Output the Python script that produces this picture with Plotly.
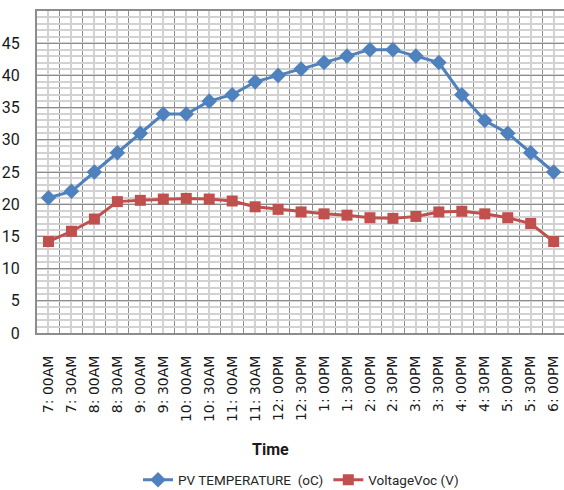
import plotly.graph_objects as go

times = ["7: 00AM", "7: 30AM", "8: 00AM", "8: 30AM", "9: 00AM", "9: 30AM",
         "10: 00AM", "10: 30AM", "11: 00AM", "11: 30AM", "12: 00PM", "12: 30PM",
         "1: 00PM", "1: 30PM", "2: 00PM", "2: 30PM", "3: 00PM", "3: 30PM",
         "4: 00PM", "4: 30PM", "5: 00PM", "5: 30PM", "6: 00PM"]
pv_temperature = [21, 22, 25, 28, 31, 34, 34, 36, 37, 39, 40, 41,
                  42, 43, 44, 44, 43, 42, 37, 33, 31, 28, 25]
voltage_voc = [14.2, 15.8, 17.7, 20.4, 20.6, 20.8, 20.9, 20.8, 20.5, 19.6, 19.2, 18.8,
               18.5, 18.3, 17.9, 17.8, 18.1, 18.8, 18.9, 18.5, 17.9, 17.0, 14.2]
y_ticks = [0, 5, 10, 15, 20, 25, 30, 35, 40, 45]

idx = list(range(len(times)))

fig = go.Figure()
fig.add_trace(go.Scatter(
    x=idx, y=pv_temperature, mode="lines+markers", name="PV TEMPERATURE\u00a0\u00a0(oC)",
    line=dict(color="#4F81BD", width=3),
    marker=dict(symbol="diamond", size=12, color="#4F81BD"),
))
fig.add_trace(go.Scatter(
    x=idx, y=voltage_voc, mode="lines+markers", name="VoltageVoc (V)",
    line=dict(color="#C0504D", width=3),
    marker=dict(symbol="square", size=11, color="#C0504D"),
))

narrow = "Liberation Sans Narrow, Arial Narrow, Roboto, sans-serif"

fig.update_layout(
    width=564, height=490,
    margin=dict(l=37, r=0, t=11, b=157, autoexpand=False),
    paper_bgcolor="white", plot_bgcolor="white",
    showlegend=True,
    legend=dict(orientation="h", x=(138 - 37) / 527, xanchor="left",
                yref="container", y=10 / 490, yanchor="middle",
                font=dict(family=narrow, size=13.5, color="#262626"),
                itemwidth=30, tracegroupgap=0),
    xaxis=dict(
        range=[-0.5, 22.45], tickmode="array", tickvals=idx, ticktext=times,
        tickangle=-90, tickfont=dict(family="DejaVu Sans", size=14, color="#1a1a1a"),
        ticklabelstandoff=15, ticklabeloverflow="allow",
        showgrid=True, gridcolor="#d2d2d2", gridwidth=2,
        minor=dict(tickmode="array", tickvals=[i - 0.5 for i in range(len(times) + 1)],
                   showgrid=True, gridcolor="#8c8c8c", gridwidth=1, ticks=""),
        showline=True, linecolor="#8c8c8c", linewidth=2, mirror=True,
        zeroline=False, ticks="",
    ),
    yaxis=dict(
        range=[0, 50], tickmode="array", tickvals=y_ticks,
        tickfont=dict(family=narrow, size=16, color="#1a1a1a"),
        ticklabelstandoff=12,
        showgrid=True, gridcolor="#8c8c8c", gridwidth=1,
        minor=dict(dtick=1, showgrid=True, gridcolor="#d2d2d2", gridwidth=2, ticks=""),
        showline=True, linecolor="#8c8c8c", linewidth=2, mirror=True,
        zeroline=False, ticks="",
    ),
    annotations=[dict(text="<b>Time</b>", xref="paper", yref="paper",
                      x=(270 - 37) / 527, y=-0.363, showarrow=False,
                      xanchor="center", yanchor="middle",
                      font=dict(family=narrow, size=16, color="#1a1a1a"))],
)

fig.write_html("out.html")
